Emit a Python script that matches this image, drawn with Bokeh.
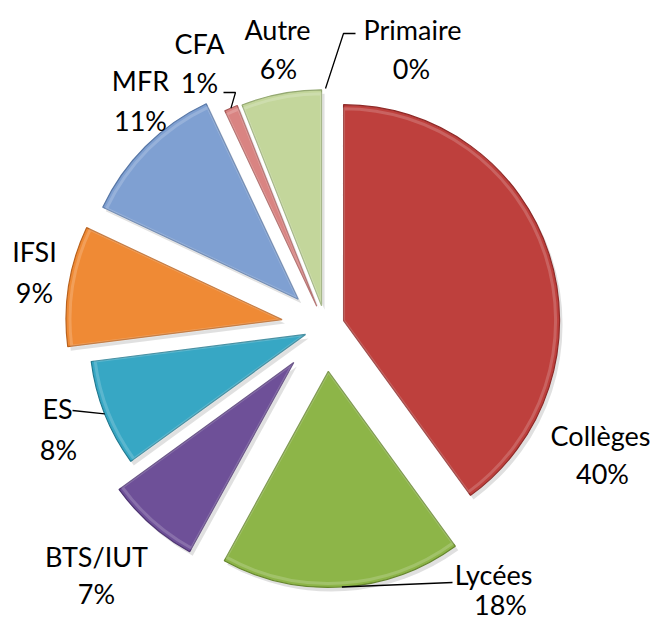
import math
from bokeh.plotting import figure
from bokeh.models import Range1d
from bokeh.embed import file_html
from bokeh.resources import INLINE
from bokeh.core.properties import value

# ---- data ----
categories = ["Collèges", "Lycées", "BTS/IUT", "ES", "IFSI", "MFR", "CFA", "Autre", "Primaire"]
percents = [40, 18, 7, 8, 9, 11, 1, 6, 0]

# ---- style / layout ----
colors = ["#BE403D", "#8DB548", "#6E5098", "#37A7C4", "#EF8A35", "#7FA0D2", "#D98482", "#C3D69B", "#B9CDE5"]
edge_colors = ["#8E2A28", "#66862E", "#4E3572", "#22798F", "#B9621E", "#5877A6", "#A65A58", "#94A872", "#8FA3BD"]
explode = [19, 45, 48, 21.5, 44, 38.6, 22, 21, 22]
CX, CY = 325, 298          # pie centre (data units = pixels, y up)
R = 216
FONT = "Lato"
FSIZE = "27px"
# label centres (name line, percent line) in page pixels (x, y-from-top)
label_pos = [
    ((600, 435), (602, 473)),
    ((493, 574), (500, 604)),
    ((96, 556), (96, 593)),
    ((57, 408), (58, 449)),
    ((34, 251), (34, 292)),
    ((140, 80), (140, 120)),
    ((199, 43), (199, 82)),
    ((277, 29), (278, 68)),
    ((412, 29), (411, 68)),
]
# leader-line extra points (page pixels) for labels that use one
leaders = {
    8: [(343, 33), (355, 33)],
    6: [(235, 92), (223, 92)],
    3: [(72, 410)],
    1: [(452, 582)],
}

W, H = 655, 624
p = figure(width=W, height=H, output_backend="svg", toolbar_location=None,
           x_range=Range1d(0, W), y_range=Range1d(624 - H, 624),
           x_axis_type=None, y_axis_type=None, min_border=0)
p.grid.visible = False
p.outline_line_color = None
p.background_fill_color = "white"
p.border_fill_color = "white"

def Y(y_img):
    return 624 - y_img

total = sum(percents)
cum = 0.0
geo = []
for i, v in enumerate(percents):
    t1 = cum / total * 360.0
    cum += v
    t2 = cum / total * 360.0
    tm = (t1 + t2) / 2.0
    dx = explode[i] * math.sin(math.radians(tm))
    dy = explode[i] * math.cos(math.radians(tm))
    geo.append((t1, t2, tm, CX + dx, CY + dy))

# shadows
for i, (t1, t2, tm, x0, y0) in enumerate(geo):
    if percents[i] <= 0:
        continue
    p.wedge(x=x0 + 3, y=y0 - 4, radius=R, start_angle=math.radians(90 - t2),
            end_angle=math.radians(90 - t1), direction="anticlock",
            fill_color="#000000", fill_alpha=0.12, line_color=None)

# slices
for i, (t1, t2, tm, x0, y0) in enumerate(geo):
    if percents[i] <= 0:
        continue
    p.wedge(x=x0, y=y0, radius=R, start_angle=math.radians(90 - t2),
            end_angle=math.radians(90 - t1), direction="anticlock",
            fill_color=colors[i], line_color=edge_colors[i], line_width=1.2)
    # soft inner highlight
    p.wedge(x=x0, y=y0, radius=R - 4, start_angle=math.radians(90 - t2),
            end_angle=math.radians(90 - t1), direction="anticlock",
            fill_color=None, line_color="white", line_alpha=0.18, line_width=3)

# leader lines
for i, pts in leaders.items():
    t1, t2, tm, x0, y0 = geo[i]
    ax = x0 + R * math.sin(math.radians(tm))
    ay = y0 + R * math.cos(math.radians(tm))
    xs = [ax] + [q[0] for q in pts]
    ys = [ay] + [Y(q[1]) for q in pts]
    p.line(xs, ys, line_color="black", line_width=1.3)

# labels
for i, name in enumerate(categories):
    (nx, ny), (px, py) = label_pos[i]
    p.text(x=[nx], y=[Y(ny)], text=[name], text_align="center", text_baseline="middle",
           text_font=value(FONT), text_font_size=FSIZE, text_color="#000000")
    p.text(x=[px], y=[Y(py)], text=[f"{percents[i]}%"], text_align="center",
           text_baseline="middle", text_font=value(FONT), text_font_size=FSIZE,
           text_color="#000000")

open("out.html", "w").write(file_html(p, INLINE))
